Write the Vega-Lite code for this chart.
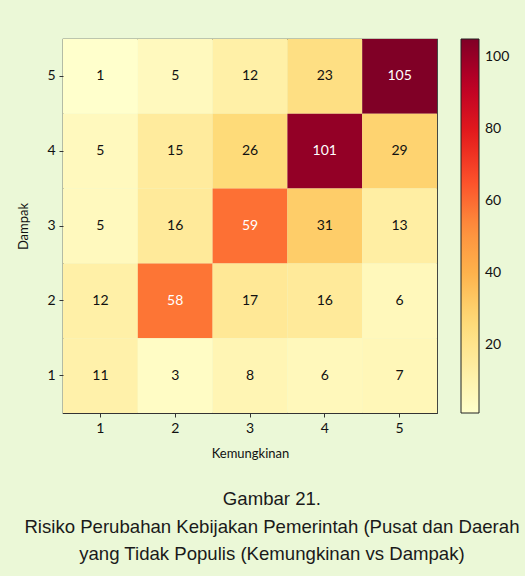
{
  "$schema": "https://vega.github.io/schema/vega-lite/v6.json",
  "width": 374,
  "height": 374,
  "autosize": {"type": "none"},
  "padding": {"left": 63, "top": 39, "right": 88, "bottom": 163},
  "background": "#ebf8d7",
  "config": {
    "view": {"stroke": "#333333", "strokeWidth": 1.2},
    "font": "Lato",
    "axis": {"labelFont": "Lato", "titleFont": "Lato", "labelFontSize": 14, "titleFontSize": 13, "titleFontWeight": "normal", "labelColor": "#111", "titleColor": "#111", "tickColor": "#333", "tickSize": 4, "domain": false, "grid": false}
  },
  "title": {
    "text": ["Gambar 21.", "Risiko Perubahan Kebijakan Pemerintah (Pusat dan Daerah", "yang Tidak Populis (Kemungkinan vs Dampak)"],
    "orient": "bottom",
    "anchor": "middle",
    "frame": "bounds",
    "font": "Liberation Sans",
    "fontSize": 18.6,
    "fontWeight": "normal",
    "lineHeight": 27.5,
    "color": "#1a1a1a",
    "offset": 30,
    "dx": 8
  },
  "data": {
    "values": [
      {"k": 1, "d": 5, "v": 1}, {"k": 2, "d": 5, "v": 5}, {"k": 3, "d": 5, "v": 12}, {"k": 4, "d": 5, "v": 23}, {"k": 5, "d": 5, "v": 105},
      {"k": 1, "d": 4, "v": 5}, {"k": 2, "d": 4, "v": 15}, {"k": 3, "d": 4, "v": 26}, {"k": 4, "d": 4, "v": 101}, {"k": 5, "d": 4, "v": 29},
      {"k": 1, "d": 3, "v": 5}, {"k": 2, "d": 3, "v": 16}, {"k": 3, "d": 3, "v": 59}, {"k": 4, "d": 3, "v": 31}, {"k": 5, "d": 3, "v": 13},
      {"k": 1, "d": 2, "v": 12}, {"k": 2, "d": 2, "v": 58}, {"k": 3, "d": 2, "v": 17}, {"k": 4, "d": 2, "v": 16}, {"k": 5, "d": 2, "v": 6},
      {"k": 1, "d": 1, "v": 11}, {"k": 2, "d": 1, "v": 3}, {"k": 3, "d": 1, "v": 8}, {"k": 4, "d": 1, "v": 6}, {"k": 5, "d": 1, "v": 7}
    ]
  },
  "encoding": {
    "x": {"field": "k", "type": "ordinal", "title": "Kemungkinan", "scale": {"paddingInner": 0, "paddingOuter": 0}, "axis": {"labelAngle": 0, "labelPadding": 4, "titlePadding": 12}},
    "y": {"field": "d", "type": "ordinal", "sort": "descending", "title": "Dampak", "scale": {"paddingInner": 0, "paddingOuter": 0}, "axis": {"labelPadding": 4, "titlePadding": 16}}
  },
  "layer": [
    {
      "mark": {"type": "rect"},
      "encoding": {
        "color": {
          "field": "v", "type": "quantitative",
          "scale": {
            "domain": [1, 14, 27, 40, 53, 66, 79, 92, 105],
            "range": ["#ffffcc", "#ffeda0", "#fed976", "#feb24c", "#fd8d3c", "#fc4e2a", "#e31a1c", "#bd0026", "#800026"],
            "interpolate": "rgb"
          },
          "legend": {
            "title": null,
            "orient": "none",
            "legendX": 398,
            "legendY": 0,
            "gradientLength": 374,
            "gradientThickness": 18,
            "gradientStrokeColor": "#222",
            "gradientStrokeWidth": 1,
            "values": [20, 40, 60, 80, 100],
            "labelFont": "Lato",
            "labelFontSize": 14,
            "labelColor": "#111",
            "labelOffset": 6,
            "labelOverlap": false
          }
        }
      }
    },
    {
      "mark": {"type": "text", "font": "Lato", "fontSize": 14},
      "encoding": {
        "text": {"field": "v", "type": "quantitative"},
        "color": {"condition": {"test": "datum.v > 50", "value": "white"}, "value": "#111"}
      }
    }
  ]
}
